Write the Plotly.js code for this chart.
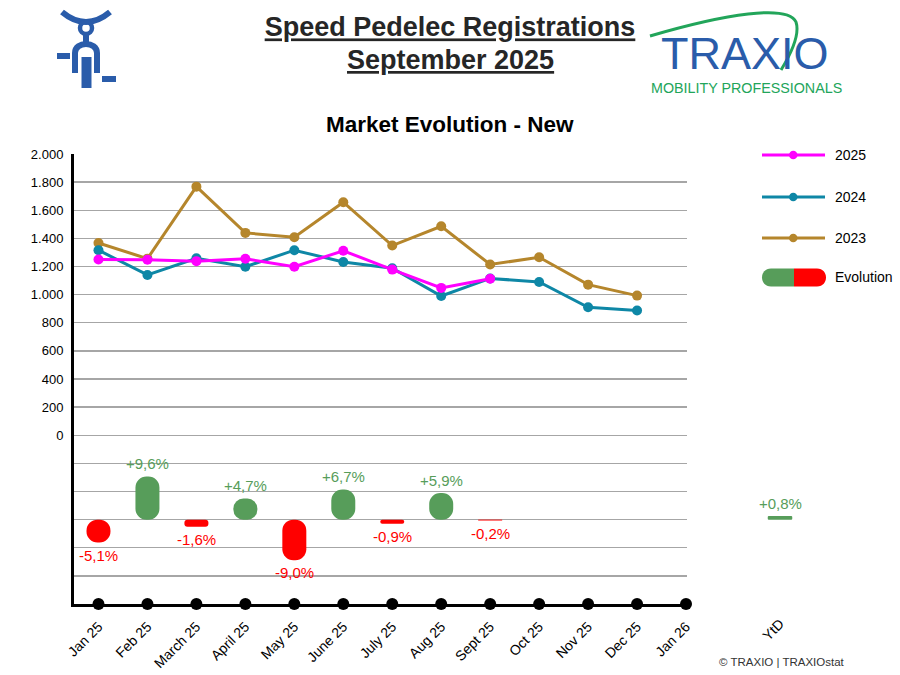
<!DOCTYPE html>
<html><head><meta charset="utf-8">
<script src="https://cdn.plot.ly/plotly-3.0.1.min.js"></script>
<style>html,body{margin:0;padding:0;background:#fff}#chart{width:900px;height:675px}</style>
</head><body><div id="chart"></div>
<script>
// ---------- DATA ----------
const months = ['Jan 25','Feb 25','March 25','April 25','May 25','June 25','July 25','Aug 25','Sept 25','Oct 25','Nov 25','Dec 25','Jan 26'];
const reg2025 = [1250, 1248, 1238, 1255, 1198, 1312, 1178, 1048, 1113];
const reg2024 = [1316, 1140, 1258, 1198, 1316, 1232, 1188, 990, 1115, 1090, 910, 887];
const reg2023 = [1367, 1256, 1768, 1439, 1408, 1657, 1349, 1486, 1214, 1266, 1071, 993];
const evolution = [-5.1, 9.6, -1.6, 4.7, -9.0, 6.7, -0.9, 5.9, -0.2];
const ytdLabel = ['YtD'];
const ytdEvolution = [0.8];
const yTickValues = [-1000,-800,-600,-400,-200,0,200,400,600,800,1000,1200,1400,1600,1800,2000];
const seriesNames = ['2025','2024','2023'];

// ---------- STYLE / LAYOUT ----------
const C25 = '#FF00FF', C24 = '#0E87A6', C23 = '#B5862C';
const GREEN = '#579D5A', RED = '#FF0000', BLUE = '#2A5CAA', LOGOGREEN = '#22A55A';
const FONT = 'Liberation Sans, Arial, sans-serif';
const W = 900, H = 675, M = {l:74, r:90, t:154, b:71};
const pw = W - M.l - M.r, ph = H - M.t - M.b;
const X = p => (p - M.l) / pw;          // pixel -> paper (decorations only)
const Y = p => (H - M.b - p) / ph;
const Y_MIN = -1200, Y_MAX = 2000, EVO_ZERO = -600, EVO_K = 0.03125;
const evoRange = [(Y_MIN - EVO_ZERO) * EVO_K, (Y_MAX - EVO_ZERO) * EVO_K];

const fmtThousands = v => v >= 0 ? String(v).replace(/\B(?=(\d{3})+(?!\d))/g, '.') : '';
const fmtPct = v => (v > 0 ? '+' : '') + v.toFixed(1).replace('.', ',') + '%';
const evoColor = v => v >= 0 ? GREEN : RED;

const evoMonths = months.slice(0, evolution.length);

const traces = [
  { type:'bar', x: evoMonths, y: evolution, base: evolution.map(() => 0), yaxis:'y2',
    width: 0.49, marker:{ color: evolution.map(evoColor), cornerradius: 12 }, showlegend:false, hoverinfo:'skip' },
  { type:'scatter', mode:'lines+markers', name: seriesNames[2], x: months.slice(0, reg2023.length), y: reg2023,
    line:{color:C23, width:3}, marker:{color:C23, size:10}, showlegend:false },
  { type:'scatter', mode:'lines+markers', name: seriesNames[1], x: months.slice(0, reg2024.length), y: reg2024,
    line:{color:C24, width:3}, marker:{color:C24, size:10}, showlegend:false },
  { type:'scatter', mode:'lines+markers', name: seriesNames[0], x: months.slice(0, reg2025.length), y: reg2025,
    line:{color:C25, width:3}, marker:{color:C25, size:10}, showlegend:false },
  { type:'scatter', mode:'markers', x: months, y: months.map(() => Y_MIN), cliponaxis:false,
    marker:{color:'#000', size:12}, showlegend:false, hoverinfo:'skip' },
  { type:'bar', x: ytdLabel, y: ytdEvolution, base: ytdEvolution.map(() => 0), xaxis:'x2', yaxis:'y3',
    width: 0.49, marker:{ color: ytdEvolution.map(evoColor), cornerradius: 12 }, showlegend:false, hoverinfo:'skip' }
];

const annotations = [];
evolution.forEach((v, i) => {
  annotations.push({ x: evoMonths[i], y: v, xref:'x', yref:'y2', text: fmtPct(v), showarrow:false,
    xanchor:'center', yanchor: v >= 0 ? 'bottom' : 'top', yshift: v >= 0 ? 2 : -2,
    font:{family:FONT, size:15, color: evoColor(v)} });
});
ytdEvolution.forEach((v, i) => {
  annotations.push({ x: ytdLabel[i], y: v, xref:'x2', yref:'y3', text: fmtPct(v), showarrow:false,
    xanchor:'center', yanchor: v >= 0 ? 'bottom' : 'top', yshift: v >= 0 ? 2 : -2,
    font:{family:FONT, size:15, color: evoColor(v)} });
});
const paperText = (px, py, text, font, xa) => annotations.push({ xref:'paper', yref:'paper', x: X(px), y: Y(py),
  xanchor: xa || 'center', yanchor:'middle', text, showarrow:false, font, borderpad:0 });
// second title line + subtitle
paperText(450, 60, 'September 2025', {family:FONT, size:27, color:'#262626', weight:'bold', lineposition:'under'});
paperText(450, 125, 'Market Evolution - New', {family:FONT, size:22.5, color:'#000', weight:'bold'});
// legend texts
const legendRows = [155, 197, 238, 277];
[...seriesNames, 'Evolution'].forEach((t, i) => paperText(834, legendRows[i], t, {family:FONT, size:14, color:'#000'}, 'left'));
// logo texts
paperText(745, 53, 'TRAXIO', {family:FONT, size:45, color:BLUE});
paperText(746, 88, 'MOBILITY PROFESSIONALS', {family:FONT, size:14.3, color:LOGOGREEN});
// copyright
paperText(782, 662, '© TRAXIO | TRAXIOstat', {family:FONT, size:11.5, color:'#333'});

// shapes: legend + icons
const shapes = [];
const legColors = [C25, C24, C23];
legColors.forEach((c, i) => {
  const yy = legendRows[i];
  shapes.push({ type:'line', xref:'paper', yref:'paper', x0:X(762), x1:X(825), y0:Y(yy), y1:Y(yy), line:{color:c, width:3} });
  shapes.push({ type:'circle', xref:'paper', yref:'paper', x0:X(789), x1:X(797.5), y0:Y(yy-4.25), y1:Y(yy+4.25), fillcolor:c, line:{width:0} });
});
const path = (s) => s.replace(/(-?\d+\.?\d*),(-?\d+\.?\d*)/g, (m, a, b) => X(+a).toFixed(5) + ',' + Y(+b).toFixed(5));
shapes.push({ type:'path', xref:'paper', yref:'paper', fillcolor:GREEN, line:{width:0},
  path: path('M771,268.5 L794,268.5 L794,286.5 L771,286.5 C759,286.5 759,268.5 771,268.5 Z') });
shapes.push({ type:'path', xref:'paper', yref:'paper', fillcolor:RED, line:{width:0},
  path: path('M794,268.5 L817,268.5 C829,268.5 829,286.5 817,286.5 L794,286.5 Z') });
// bike icon
shapes.push({ type:'path', xref:'paper', yref:'paper', line:{color:BLUE, width:6},
  path: path('M62,12 Q86,32 110,12') });
shapes.push({ type:'circle', xref:'paper', yref:'paper', x0:X(80), x1:X(92), y0:Y(34), y1:Y(22), line:{color:BLUE, width:4.5} });
shapes.push({ type:'rect', xref:'paper', yref:'paper', x0:X(83), x1:X(89), y0:Y(46), y1:Y(34), fillcolor:BLUE, line:{width:0} });
shapes.push({ type:'path', xref:'paper', yref:'paper', line:{color:BLUE, width:6},
  path: path('M75,73 L75,53 C75,41 97,41 97,53 L97,73') });
shapes.push({ type:'rect', xref:'paper', yref:'paper', x0:X(81.5), x1:X(91.5), y0:Y(88), y1:Y(57), fillcolor:BLUE, line:{width:0} });
shapes.push({ type:'rect', xref:'paper', yref:'paper', x0:X(57), x1:X(70), y0:Y(59), y1:Y(53), fillcolor:BLUE, line:{width:0} });
shapes.push({ type:'rect', xref:'paper', yref:'paper', x0:X(102), x1:X(116), y0:Y(82), y1:Y(76), fillcolor:BLUE, line:{width:0} });
// logo swoosh
shapes.push({ type:'path', xref:'paper', yref:'paper', line:{color:LOGOGREEN, width:3},
  path: path('M650,36 C725,14 788,4 796,22 C800,34 792,52 781,70') });

const layout = {
  width: W, height: H, margin: M, paper_bgcolor:'#fff', plot_bgcolor:'#fff',
  showlegend:false, hovermode:false, barmode:'overlay',
  font:{family:FONT, size:14, color:'#000'},
  title:{ text:'Speed Pedelec Registrations', xref:'container', yref:'container',
    x:0.5, y: 1 - 27/H, xanchor:'center', yanchor:'middle',
    font:{family:FONT, size:27, color:'#262626', weight:'bold', lineposition:'under'} },
  xaxis:{ type:'category', categoryorder:'array', categoryarray: months, range:[-0.5, 12.02],
    domain:[0, X(687)], anchor:'y', showgrid:false, showline:true, linecolor:'#000', linewidth:3,
    ticks:'', tickangle:-45, ticklabelstandoff:6, tickfont:{family:FONT, size:14, color:'#000'}, zeroline:false },
  yaxis:{ range:[Y_MIN, Y_MAX], domain:[0,1], tickvals: yTickValues, ticktext: yTickValues.map(fmtThousands),
    showgrid:true, gridcolor:'#A6A6A6', gridwidth:1.4, zeroline:false, showline:true, linecolor:'#000', linewidth:3,
    ticks:'', ticklabelstandoff:5, tickfont:{family:FONT, size:13, color:'#000'} },
  yaxis2:{ overlaying:'y', range: evoRange, visible:false, showgrid:false, zeroline:false },
  xaxis2:{ type:'category', domain:[X(755), X(805)], anchor:'y3', range:[-0.5, 0.5], showgrid:false, showline:false,
    ticks:'', tickangle:-45, ticklabelstandoff:8, tickfont:{family:FONT, size:14, color:'#000'}, zeroline:false },
  yaxis3:{ domain:[0,1], anchor:'x2', range: evoRange, visible:false, showgrid:false, zeroline:false },
  annotations, shapes
};

Plotly.newPlot('chart', traces, layout, {displayModeBar:false, staticPlot:true});
</script>
</body></html>
